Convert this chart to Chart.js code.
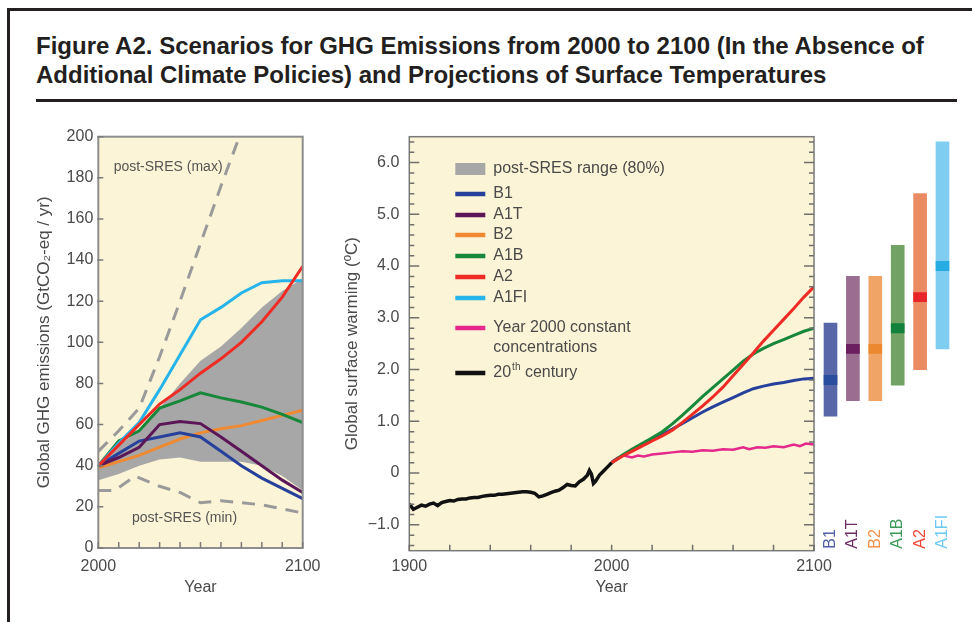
<!DOCTYPE html>
<html>
<head>
<meta charset="utf-8">
<script src="https://cdn.jsdelivr.net/npm/chart.js@4.4.1/dist/chart.umd.min.js"></script>
<style>
  html, body { margin: 0; padding: 0; background: #fff; }
  body { width: 972px; height: 622px; position: relative; overflow: hidden;
         font-family: "Liberation Sans", Arial, sans-serif; }
  #frame { position: absolute; left: 7px; top: 8px; right: -10px; bottom: -10px;
           border-left: 3px solid #231f20; border-top: 3px solid #231f20; }
  #title { position: absolute; left: 36px; top: 30.6px; font-weight: bold; font-size: 24px;
           line-height: 29px; color: #231f20; white-space: nowrap; }
  #rule { position: absolute; left: 36px; top: 99px; width: 921px; height: 3px; background: #231f20; }
  canvas { position: absolute; }
</style>
</head>
<body>
<div id="frame"></div>
<div id="title">Figure A2. Scenarios for GHG Emissions from 2000 to 2100 (In the Absence of<br>Additional Climate Policies) and Projections of Surface Temperatures</div>
<div id="rule"></div>
<canvas id="emis" width="320" height="480" style="left:0;top:120px"></canvas>
<canvas id="temp" width="530" height="480" style="left:320px;top:120px"></canvas>
<canvas id="range" width="157" height="480" style="left:815px;top:120px"></canvas>
<script>
// ---------- shared ----------
const scenarioNames  = ['B1', 'A1T', 'B2', 'A1B', 'A2', 'A1FI'];
const scenarioColors = ['#27409c', '#5b1657', '#f08a32', '#17873a', '#ee2b24', '#27b4ea'];

// ---------- GHG emissions (GtCO2-eq / yr) ----------
const decadeYears = [2000, 2010, 2020, 2030, 2040, 2050, 2060, 2070, 2080, 2090, 2100];
const emisB1   = [40, 46, 52, 54, 56, 54, 47, 40, 34, 29, 24];
const emisA1T  = [40, 44, 49, 60, 61.5, 60.5, 54, 47, 40, 33, 27];
const emisB2   = [39, 42, 45, 49, 53, 56, 58, 59.5, 62, 64.5, 67];
const emisA1B  = [40, 52, 57, 68, 71.5, 75.5, 73, 71, 68.5, 65, 61];
const emisA2   = [40, 50, 60, 70, 77, 85, 92, 100, 110, 122, 137];
const emisA1FI = [40, 51, 61, 77, 94, 111, 117, 124, 129, 130, 130];
const bandHigh = [40, 50, 57, 68, 80, 91, 98, 107, 117, 125, 131];
const bandLow  = [33, 36, 40, 43, 44, 42, 42, 42, 40, 35, 28];
const maxYears = [2000, 2010, 2020, 2030, 2040, 2050, 2060, 2069];
const maxEmis  = [47, 57, 68, 93, 120, 148, 176, 200];
const minYears = [2000, 2008, 2018, 2030, 2040, 2050, 2060, 2070, 2080, 2090, 2100];
const minEmis  = [28, 28, 35, 30, 27, 22, 23, 22, 21, 19, 17];
const emisTicks = [0, 20, 40, 60, 80, 100, 120, 140, 160, 180, 200];
const emisYearTicks  = [2000, 2010, 2020, 2030, 2040, 2050, 2060, 2070, 2080, 2090, 2100];
const emisYearLabels = ['2000', '', '', '', '', '', '', '', '', '', '2100'];

// ---------- surface warming (°C) ----------
const histYears = [1900, 1902, 1904, 1906, 1908, 1910, 1912, 1914, 1916, 1918, 1920, 1922, 1924, 1926, 1928,
  1930, 1932, 1934, 1936, 1938, 1940, 1942, 1944, 1946, 1948, 1950, 1952, 1954, 1956, 1958, 1960, 1962,
  1964, 1966, 1968, 1970, 1972, 1974, 1976, 1978, 1980, 1982, 1984, 1986, 1988, 1989, 1990, 1991, 1992,
  1994, 1996, 1998, 2000];
const histTemp = [-0.60, -0.70, -0.66, -0.62, -0.64, -0.60, -0.58, -0.63, -0.57, -0.55, -0.53, -0.54, -0.51,
  -0.50, -0.50, -0.48, -0.47, -0.47, -0.45, -0.44, -0.43, -0.43, -0.41, -0.41, -0.40, -0.39, -0.38, -0.37,
  -0.36, -0.36, -0.37, -0.39, -0.46, -0.44, -0.41, -0.38, -0.35, -0.33, -0.28, -0.22, -0.24, -0.25, -0.17,
  -0.12, -0.04, 0.05, -0.02, -0.20, -0.16, -0.04, 0.04, 0.12, 0.20];
const futureYears = [2000, 2005, 2010, 2015, 2020, 2025, 2030, 2035, 2040, 2045, 2050, 2055, 2060, 2065,
  2070, 2075, 2080, 2085, 2090, 2095, 2100];
const tempB1  = [0.2, 0.33, 0.44, 0.54, 0.64, 0.75, 0.85, 0.96, 1.07, 1.18, 1.28, 1.37, 1.46, 1.55, 1.63,
  1.68, 1.72, 1.75, 1.79, 1.82, 1.83];
const tempA1B = [0.2, 0.34, 0.46, 0.57, 0.68, 0.80, 0.95, 1.12, 1.30, 1.48, 1.65, 1.82, 1.99, 2.16, 2.30,
  2.41, 2.50, 2.58, 2.66, 2.74, 2.80];
const tempA2  = [0.2, 0.32, 0.42, 0.52, 0.62, 0.72, 0.83, 0.98, 1.14, 1.30, 1.47, 1.66, 1.88, 2.10, 2.32,
  2.55, 2.76, 2.97, 3.18, 3.40, 3.60];
const constYears = [2000, 2003, 2006, 2010, 2013, 2016, 2020, 2025, 2030, 2035, 2040, 2045, 2050, 2055, 2060,
  2065, 2068, 2072, 2076, 2080, 2085, 2090, 2093, 2096, 2100];
const tempConst  = [0.22, 0.30, 0.34, 0.30, 0.34, 0.32, 0.36, 0.38, 0.40, 0.42, 0.41, 0.44, 0.43, 0.46, 0.45,
  0.50, 0.46, 0.50, 0.49, 0.52, 0.50, 0.55, 0.52, 0.57, 0.55];
const tempTicks  = [-1, 0, 1, 2, 3, 4, 5, 6];
const tempTickLabels = ['\u22121.0', '0', '1.0', '2.0', '3.0', '4.0', '5.0', '6.0'];
const tempYearTicks  = [1900, 1920, 1940, 1960, 1980, 2000, 2020, 2040, 2060, 2080, 2100];
const tempYearLabels = ['1900', '', '', '', '', '2000', '', '', '', '', '2100'];

// ---------- likely range at 2090-2099 (°C) ----------
const rangeLow  = [1.1, 1.4, 1.4, 1.7, 2.0, 2.4];
const rangeHigh = [2.9, 3.8, 3.8, 4.4, 5.4, 6.4];
const rangeBest = [1.8, 2.4, 2.4, 2.8, 3.4, 4.0];
const rangeFill  = ['#5767a8', '#9a6d91', '#f0a466', '#73a265', '#ea8b63', '#7fcdf0'];
const rangeMark  = ['#2a4e9e', '#6b1e60', '#ec8830', '#12813b', '#e8262a', '#26ace2'];
const rangeLabelColors = ['#4f60a8', '#6a2c62', '#f2914a', '#3c9957', '#f04636', '#6ec8f2'];

// ---------- helpers ----------
const FONT = '"Liberation Sans", Arial, sans-serif';
const CREAM = '#fcf4d6';
const TEXT = '#4a4a4a';
const pts = (xs, ys) => ys.map((y, i) => ({ x: xs[i], y }));
Chart.defaults.font.family = FONT;
Chart.defaults.animation = false;
Chart.defaults.events = [];

const cream = {
  id: 'cream',
  beforeDatasetsDraw(chart) {
    const { ctx, chartArea: a } = chart;
    ctx.save(); ctx.fillStyle = CREAM;
    ctx.fillRect(a.left, a.top, a.right - a.left, a.bottom - a.top);
    ctx.restore();
  }
};
function boxFrame(color, width) {
  return {
    id: 'boxFrame',
    afterDatasetsDraw(chart) {
      const { ctx, chartArea: a } = chart;
      ctx.save(); ctx.strokeStyle = color; ctx.lineWidth = width;
      ctx.strokeRect(a.left, a.top, a.right - a.left, a.bottom - a.top);
      ctx.restore();
    }
  };
}
const fixedTicks = (values) => (scale) => { scale.ticks = values.map(v => ({ value: v })); };
// fixed axis box sizes, with no extra room reserved for edge labels
const fixWidth = (w) => (s) => { s.width = w; s.paddingTop = 0; s.paddingBottom = 0; };
const fixHeight = (h) => (s) => { s.height = h; s.paddingLeft = 0; s.paddingRight = 0; };
const lineDS = (label, xs, ys, color, order, extra) => Object.assign({
  label, data: pts(xs, ys), borderColor: color, borderWidth: 3, pointRadius: 0,
  fill: false, tension: 0, order
}, extra || {});

// ---------- emissions chart ----------
const emisTickMarks = {
  id: 'emisTickMarks',
  afterDatasetsDraw(chart) {
    const { ctx, chartArea: a, scales: { x, y } } = chart;
    ctx.save(); ctx.strokeStyle = '#7a7a7a'; ctx.lineWidth = 1.5;
    ctx.beginPath();
    y.ticks.forEach(t => { const p = y.getPixelForValue(t.value); ctx.moveTo(a.left - 1, p); ctx.lineTo(a.left + 5, p); });
    x.ticks.forEach(t => { const p = x.getPixelForValue(t.value); ctx.moveTo(p, a.bottom); ctx.lineTo(p, a.bottom - 6); });
    ctx.stroke();
    ctx.fillStyle = '#555'; ctx.font = '14px ' + FONT; ctx.textBaseline = 'middle'; ctx.textAlign = 'left';
    ctx.fillText('post-SRES (max)', x.getPixelForValue(2007.5), y.getPixelForValue(185));
    ctx.fillText('post-SRES (min)', x.getPixelForValue(2016.5), y.getPixelForValue(14.5));
    ctx.restore();
  }
};

new Chart(document.getElementById('emis'), {
  type: 'line',
  data: {
    datasets: [
      { label: 'post-SRES range (80%)', data: pts(decadeYears, bandHigh), fill: '+1', backgroundColor: '#a7a7a7',
        borderWidth: 0, pointRadius: 0, order: 10 },
      { label: 'post-SRES range low', data: pts(decadeYears, bandLow), fill: false, borderWidth: 0, pointRadius: 0, order: 10 },
      lineDS('post-SRES (max)', maxYears, maxEmis, '#9a9a9a', 8, { borderDash: [13, 9] }),
      lineDS('post-SRES (min)', minYears, minEmis, '#9a9a9a', 8, { borderDash: [13, 9] }),
      lineDS('B2', decadeYears, emisB2, scenarioColors[2], 6),
      lineDS('B1', decadeYears, emisB1, scenarioColors[0], 5),
      lineDS('A1T', decadeYears, emisA1T, scenarioColors[1], 4),
      lineDS('A1B', decadeYears, emisA1B, scenarioColors[3], 3),
      lineDS('A1FI', decadeYears, emisA1FI, scenarioColors[5], 2),
      lineDS('A2', decadeYears, emisA2, scenarioColors[4], 1)
    ]
  },
  options: {
    responsive: false,
    layout: { padding: { left: 0, right: 17.3, top: 16.7, bottom: 0 } },
    plugins: { legend: { display: false }, tooltip: { enabled: false } },
    scales: {
      x: {
        type: 'linear', min: 2000, max: 2100,
        afterBuildTicks: fixedTicks(emisYearTicks),
        afterFit: fixHeight(52),
        grid: { display: false, drawTicks: false }, border: { display: false },
        ticks: { autoSkip: false, maxRotation: 0, padding: 9.4, color: TEXT, font: { size: 16 },
                 callback: (v, i) => emisYearLabels[i] },
        title: { display: true, text: 'Year', color: TEXT, font: { size: 16 }, padding: { top: 0, bottom: 2.4 } }
      },
      y: {
        min: 0, max: 200,
        afterBuildTicks: fixedTicks(emisTicks),
        afterFit: fixWidth(98.3),
        grid: { display: false, drawTicks: false }, border: { display: false },
        ticks: { padding: 5, color: TEXT, font: { size: 16 }, callback: (v) => String(v) },
        title: { display: true, text: 'Global GHG emissions (GtCO\u2082-eq / yr)', color: TEXT,
                 font: { size: 17 }, padding: { top: 34, bottom: 0 } }
      }
    }
  },
  plugins: [cream, boxFrame('#8e8e8e', 2), emisTickMarks]
});

// ---------- warming chart ----------
const legendRows = [
  { text: 'post-SRES range (80%)', color: '#a7a7a7', box: true, dy: 32.3 },
  { text: scenarioNames[0], color: scenarioColors[0], dy: 57.3 },
  { text: scenarioNames[1], color: scenarioColors[1], dy: 78.3 },
  { text: scenarioNames[2], color: scenarioColors[2], dy: 98.3 },
  { text: scenarioNames[3], color: scenarioColors[3], dy: 119.3 },
  { text: scenarioNames[4], color: scenarioColors[4], dy: 140.3 },
  { text: scenarioNames[5], color: scenarioColors[5], dy: 161.3 },
  { text: 'Year 2000 constant', text2: 'concentrations', color: '#e5288c', dy: 191.3 },
  { text: '20', sup: 'th', rest: ' century', color: '#111', dy: 236.3 }
];
const tempDecor = {
  id: 'tempDecor',
  afterDatasetsDraw(chart) {
    const { ctx, chartArea: a, scales: { x, y } } = chart;
    ctx.save();
    ctx.strokeStyle = '#6f6f6f'; ctx.lineWidth = 1.5;
    ctx.beginPath();
    for (let k = -7; k <= 32; k++) {
      const v = k * 0.2;
      const major = Math.abs(v - Math.round(v)) < 1e-6;
      const len = major ? 10 : 5;
      const p = y.getPixelForValue(v);
      ctx.moveTo(a.left, p); ctx.lineTo(a.left + len, p);
      ctx.moveTo(a.right, p); ctx.lineTo(a.right - len, p);
    }
    x.ticks.forEach(t => { const p = x.getPixelForValue(t.value); ctx.moveTo(p, a.bottom); ctx.lineTo(p, a.bottom - 6); });
    ctx.stroke();

    // legend
    const sx = a.left + 46, tx = a.left + 84;
    ctx.font = '16px ' + FONT; ctx.textBaseline = 'middle'; ctx.textAlign = 'left';
    legendRows.forEach(r => {
      const cy = a.top + r.dy;
      if (r.box) { ctx.fillStyle = r.color; ctx.fillRect(sx, cy - 6, 30, 12); }
      else { ctx.strokeStyle = r.color; ctx.lineWidth = 4.5; ctx.beginPath(); ctx.moveTo(sx, cy); ctx.lineTo(sx + 30, cy); ctx.stroke(); }
      ctx.fillStyle = TEXT;
      ctx.fillText(r.text, tx, cy);
      if (r.text2) ctx.fillText(r.text2, tx, cy + 20);
      if (r.sup) {
        const w = ctx.measureText(r.text).width;
        ctx.font = '10px ' + FONT;
        ctx.fillText(r.sup, tx + w + 1, cy - 6);
        const w2 = ctx.measureText(r.sup).width;
        ctx.font = '16px ' + FONT;
        ctx.fillText(r.rest, tx + w + 1 + w2, cy);
      }
    });
    ctx.restore();
  }
};

new Chart(document.getElementById('temp'), {
  type: 'line',
  data: {
    datasets: [
      lineDS('Year 2000 constant concentrations', constYears, tempConst, '#e5288c', 5, { borderWidth: 2.5 }),
      lineDS('B1', futureYears, tempB1, scenarioColors[0], 4),
      lineDS('A1B', futureYears, tempA1B, scenarioColors[3], 3),
      lineDS('A2', futureYears, tempA2, scenarioColors[4], 2),
      lineDS('20th century', histYears, histTemp, '#111111', 1, { borderWidth: 3.5 })
    ]
  },
  options: {
    responsive: false,
    layout: { padding: { left: 0, right: 36, top: 16.7, bottom: 0 } },
    plugins: { legend: { display: false }, tooltip: { enabled: false } },
    scales: {
      x: {
        type: 'linear', min: 1900, max: 2100,
        afterBuildTicks: fixedTicks(tempYearTicks),
        afterFit: fixHeight(49.3),
        grid: { display: false, drawTicks: false }, border: { display: false },
        ticks: { autoSkip: false, maxRotation: 0, padding: 6.7, color: TEXT, font: { size: 16 },
                 callback: (v, i) => tempYearLabels[i] },
        title: { display: true, text: 'Year', color: TEXT, font: { size: 16 }, padding: { top: 0, bottom: 2.4 } }
      },
      y: {
        min: -1.5, max: 6.5,
        afterBuildTicks: fixedTicks(tempTicks),
        afterFit: fixWidth(89.3),
        grid: { display: false, drawTicks: false }, border: { display: false },
        ticks: { padding: 10, color: TEXT, font: { size: 16 }, callback: (v, i) => tempTickLabels[i] },
        title: { display: true, text: 'Global surface warming (\u00baC)', color: TEXT,
                 font: { size: 17 }, padding: { top: 22, bottom: 0 } }
      }
    }
  },
  plugins: [cream, boxFrame('#7a7a7a', 1.5), tempDecor]
});

// ---------- likely-range bars ----------
const MARK_HALF = 0.09;
const rangeLabels = {
  id: 'rangeLabels',
  afterDraw(chart) {
    const { ctx, chartArea: a, scales: { x } } = chart;
    ctx.save();
    ctx.font = '16px ' + FONT; ctx.textAlign = 'left'; ctx.textBaseline = 'middle';
    scenarioNames.forEach((n, i) => {
      ctx.save();
      ctx.translate(x.getPixelForValue(i), a.bottom - 2);
      ctx.rotate(-Math.PI / 2);
      ctx.fillStyle = rangeLabelColors[i];
      ctx.fillText(n, 0, 0);
      ctx.restore();
    });
    ctx.restore();
  }
};
new Chart(document.getElementById('range'), {
  type: 'bar',
  data: {
    labels: scenarioNames,
    datasets: [
      { label: 'best estimate', data: rangeBest.map(b => [b - MARK_HALF, b + MARK_HALF]),
        backgroundColor: rangeMark, grouped: false, barThickness: 13, order: 1 },
      { label: 'likely range', data: rangeLow.map((l, i) => [l, rangeHigh[i]]),
        backgroundColor: rangeFill, grouped: false, barThickness: 13, order: 2 }
    ]
  },
  options: {
    responsive: false,
    layout: { padding: { left: 4.3, right: 18.3, top: 16.7, bottom: 49.3 } },
    plugins: { legend: { display: false }, tooltip: { enabled: false } },
    scales: {
      x: { display: false },
      y: { display: false, min: -1.5, max: 6.5 }
    }
  },
  plugins: [rangeLabels]
});
</script>
</body>
</html>
